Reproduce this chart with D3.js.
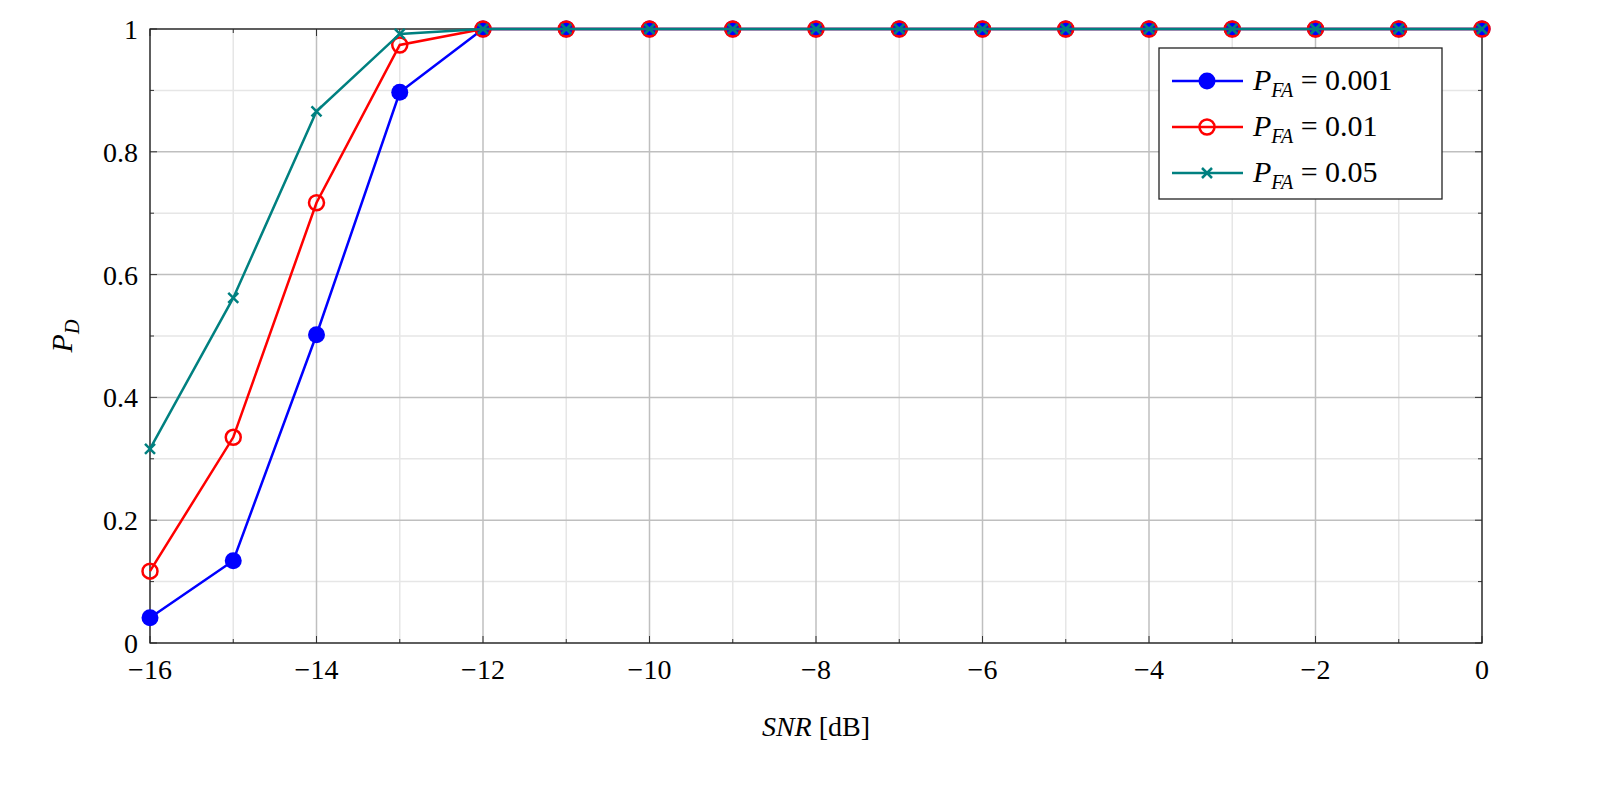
<!DOCTYPE html>
<html><head><meta charset="utf-8">
<script src="https://cdn.jsdelivr.net/npm/d3@7"></script>
<style>html,body{margin:0;padding:0;background:#fff;overflow:hidden}svg{display:block}text{font-family:"Liberation Serif","DejaVu Serif",serif;}</style>
</head><body><svg id="c" width="1606" height="792"></svg>
<script>
const snr = d3.range(-16, 1, 1);
const pd001 = [0.041,0.134,0.502,0.897,1,1,1,1,1,1,1,1,1,1,1,1,1];
const pd01  = [0.117,0.335,0.717,0.974,1,1,1,1,1,1,1,1,1,1,1,1,1];
const pd05  = [0.316,0.562,0.866,0.992,1,1,1,1,1,1,1,1,1,1,1,1,1];
const xTicks = [-16,-14,-12,-10,-8,-6,-4,-2,0];
const yTicks = [0,0.2,0.4,0.6,0.8,1];
const labels = ["0.001","0.01","0.05"];

const L=150,R=1482,T=29,B=643;
const FF='"Liberation Serif","DejaVu Serif",serif';
const svg=d3.select("#c");
const x=d3.scaleLinear().domain([-16,0]).range([L,R]);
const y=d3.scaleLinear().domain([0,1]).range([B,T]);
const g=svg.append("g");
d3.range(-15,0,2).forEach(v=>g.append("line").attr("x1",x(v)).attr("x2",x(v)).attr("y1",T).attr("y2",B).attr("stroke","#e6e6e6").attr("stroke-width",1.5));
d3.range(0.1,1,0.2).forEach(v=>g.append("line").attr("y1",y(v)).attr("y2",y(v)).attr("x1",L).attr("x2",R).attr("stroke","#e6e6e6").attr("stroke-width",1.5));
xTicks.forEach(v=>g.append("line").attr("x1",x(v)).attr("x2",x(v)).attr("y1",T).attr("y2",B).attr("stroke","#bfbfbf").attr("stroke-width",1.5));
yTicks.forEach(v=>g.append("line").attr("y1",y(v)).attr("y2",y(v)).attr("x1",L).attr("x2",R).attr("stroke","#bfbfbf").attr("stroke-width",1.5));
const ax=svg.append("g").attr("stroke","#333").attr("stroke-width",1);
d3.range(-16,1,1).forEach(v=>{const len=v%2===0?7:4;
 ax.append("line").attr("x1",x(v)).attr("x2",x(v)).attr("y1",B).attr("y2",B-len);
 ax.append("line").attr("x1",x(v)).attr("x2",x(v)).attr("y1",T).attr("y2",T+len);});
d3.range(0,11,1).forEach(i=>{const v=i/10,len=i%2===0?7:4;
 ax.append("line").attr("y1",y(v)).attr("y2",y(v)).attr("x1",L).attr("x2",L+len);
 ax.append("line").attr("y1",y(v)).attr("y2",y(v)).attr("x1",R).attr("x2",R-len);});
svg.append("rect").attr("x",L).attr("y",T).attr("width",R-L).attr("height",B-T).attr("fill","none").attr("stroke","#222").attr("stroke-width",1.3);
xTicks.forEach(v=>svg.append("text").attr("font-family",FF).attr("x",x(v)).attr("y",B+36).attr("text-anchor","middle").attr("font-size",28).text(v<0?"\u2212"+(-v):v));
yTicks.forEach(v=>svg.append("text").attr("font-family",FF).attr("x",L-12).attr("y",y(v)+10).attr("text-anchor","end").attr("font-size",28).text(v));
svg.append("text").attr("font-family",FF).attr("x",816).attr("y",736).attr("text-anchor","middle").attr("font-size",28)
 .html('<tspan font-style="italic">SNR</tspan> [dB]');
svg.append("text").attr("font-family",FF).attr("transform","translate(72,336) rotate(-90)").attr("text-anchor","middle").attr("font-size",30)
 .html('<tspan font-style="italic">P</tspan><tspan font-style="italic" font-size="20" dy="7">D</tspan>');

const series=[{d:pd001,c:"#0000ff",m:"dot"},{d:pd01,c:"#ff0000",m:"circ"},{d:pd05,c:"#008080",m:"x"}];
const line=d3.line().x((d,i)=>x(snr[i])).y(d=>y(d));
function marker(sel,m,c,cx,cy){
 if(m==="dot") sel.append("circle").attr("cx",cx).attr("cy",cy).attr("r",8.5).attr("fill",c);
 else if(m==="circ") sel.append("circle").attr("cx",cx).attr("cy",cy).attr("r",7.5).attr("fill","none").attr("stroke",c).attr("stroke-width",2.5);
 else {const s=5;sel.append("path").attr("d",`M${cx-s},${cy-s}L${cx+s},${cy+s}M${cx-s},${cy+s}L${cx+s},${cy-s}`).attr("stroke",c).attr("stroke-width",2.5);}
}
series.forEach(s=>{
 svg.append("path").attr("d",line(s.d)).attr("fill","none").attr("stroke",s.c).attr("stroke-width",2.5);
 s.d.forEach((v,i)=>marker(svg,s.m,s.c,x(snr[i]),y(v)));
});
const lg=svg.append("g");
lg.append("rect").attr("x",1159).attr("y",48).attr("width",283).attr("height",151).attr("fill","#fff").attr("stroke","#222").attr("stroke-width",1.3);
series.forEach((s,i)=>{const cy=81+i*46;
 lg.append("line").attr("x1",1172).attr("x2",1243).attr("y1",cy).attr("y2",cy).attr("stroke",s.c).attr("stroke-width",2.5);
 marker(lg,s.m,s.c,1207,cy);
 lg.append("text").attr("font-family",FF).attr("x",1253).attr("y",cy+9).attr("font-size",30)
  .html(`<tspan font-style="italic">P</tspan><tspan font-style="italic" font-size="20" dy="7">FA</tspan><tspan dy="-7"> = ${labels[i]}</tspan>`);
});
</script></body></html>
